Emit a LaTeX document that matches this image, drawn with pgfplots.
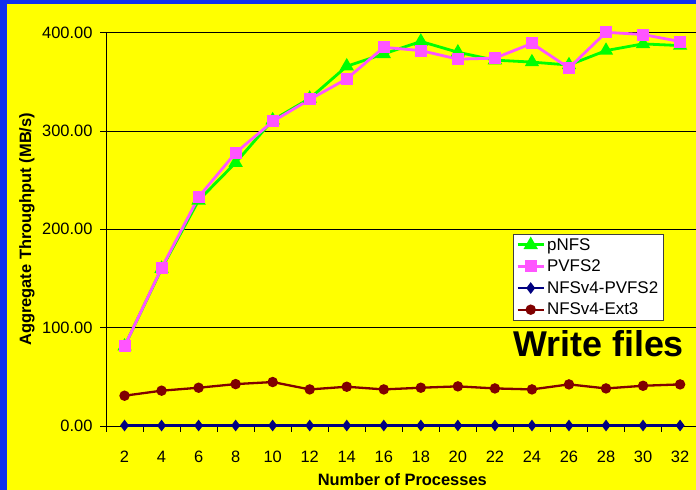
\documentclass[border=0pt]{standalone}
\usepackage{fontspec}
\setmainfont{Liberation Sans}
\usepackage{pgfplots}
\pgfplotsset{compat=1.18}
\definecolor{bordblue}{RGB}{16,48,240}
\definecolor{bgyellow}{RGB}{255,255,0}
\definecolor{pgreen}{RGB}{0,255,0}
\definecolor{ppink}{RGB}{255,85,255}
\definecolor{pnavy}{RGB}{0,0,128}
\definecolor{pdred}{RGB}{128,0,0}
\begin{document}
\begin{tikzpicture}[x=1bp,y=1bp]
\fill[bordblue] (0,0) rectangle (696,490);
\fill[bgyellow] (7,0) rectangle (696,486);
\begin{axis}[
  at={(106bp,64bp)}, anchor=south west,
  scale only axis, width=592.6bp, height=393.4bp,
  xmin=1, xmax=33, ymin=0, ymax=400,
  axis lines=left, axis line style={-, black, line width=0.8bp},
  clip=false,
  xtick={2,4,...,32},
  minor xtick={1,3,...,33},
  major x tick style={draw=none},
  minor x tick style={black, line width=0.8bp},
  ytick={0,100,200,300,400},
  tick align=outside,
  major tick length=6bp, minor tick length=6bp,
  y tick style={black, line width=0.8bp},
  ymajorgrids, grid style={black, line width=0.8bp},
  /pgf/number format/assume math mode=true,
  yticklabel={\pgfmathprintnumber[fixed,fixed zerofill,precision=2]{\tick}},
  tick label style={font=\fontsize{16.5}{19}\selectfont},
  xticklabel style={anchor=base, yshift=-31bp},
  yticklabel style={xshift=-4bp},
  xlabel={Number of Processes},
  ylabel={Aggregate Throughput (MB/s)},
  every axis x label/.append style={at={(axis description cs:0.5,-0.15)}, anchor=base, font=\bfseries\fontsize{16.5}{19}\selectfont},
  every axis y label/.append style={at={(axis description cs:-0.1333,0.5)}, anchor=center, font=\bfseries\fontsize{16.5}{19}\selectfont},
  legend style={at={(axis description cs:0.687,0.488)}, anchor=north west,
    font=\fontsize{17}{20}\selectfont, draw=black!75, fill=white,
    inner xsep=3bp, inner ysep=2bp, row sep=4.3bp},
  legend cell align=left,
  legend image code/.code={\draw[mark repeat=2,mark phase=2,#1] plot coordinates {(0bp,0bp) (13bp,0bp) (26bp,0bp)};},
]
\addplot[pgreen, line width=2.8bp, mark=triangle*, mark size=5.5bp, mark options={solid}] coordinates {
(2,81) (4,160) (6,229.4) (8,267.7) (10,311) (12,333) (14,365.8) (16,378.3) (18,391) (20,380) (22,372) (24,370) (26,367) (28,381.7) (30,388.5) (32,386.8)};
\addlegendentry{pNFS}
\addplot[ppink, line width=2.8bp, mark=square*, mark size=4.6bp, mark options={solid}] coordinates {
(2,81) (4,160.5) (6,232.8) (8,277.8) (10,309.6) (12,332) (14,353) (16,385) (18,381.7) (20,373) (22,374) (24,389) (26,364) (28,400.3) (30,398) (32,390.9)};
\addlegendentry{PVFS2}
\addplot[pnavy, line width=2.3bp, mark=diamond*, mark size=4bp, mark options={solid}] coordinates {
(2,0.5) (4,0.5) (6,0.5) (8,0.5) (10,0.5) (12,0.5) (14,0.5) (16,0.5) (18,0.5) (20,0.5) (22,0.5) (24,0.5) (26,0.5) (28,0.5) (30,0.5) (32,0.5)};
\addlegendentry{NFSv4-PVFS2}
\addplot[pdred, line width=2.3bp, mark=*, mark size=4bp, mark options={solid}] coordinates {
(2,30.8) (4,35.9) (6,38.9) (8,42.6) (10,44.7) (12,37.2) (14,39.9) (16,37.2) (18,38.9) (20,40.3) (22,38.2) (24,37.2) (26,42.3) (28,38.2) (30,40.9) (32,42.3)};
\addlegendentry{NFSv4-Ext3}
\end{axis}
\node[anchor=base west, inner sep=0pt, font=\bfseries\fontsize{36}{40}\selectfont] at (513,133) {Write files};
\pgfresetboundingbox
\path[use as bounding box] (0,0) rectangle (696,490);
\end{tikzpicture}
\end{document}
